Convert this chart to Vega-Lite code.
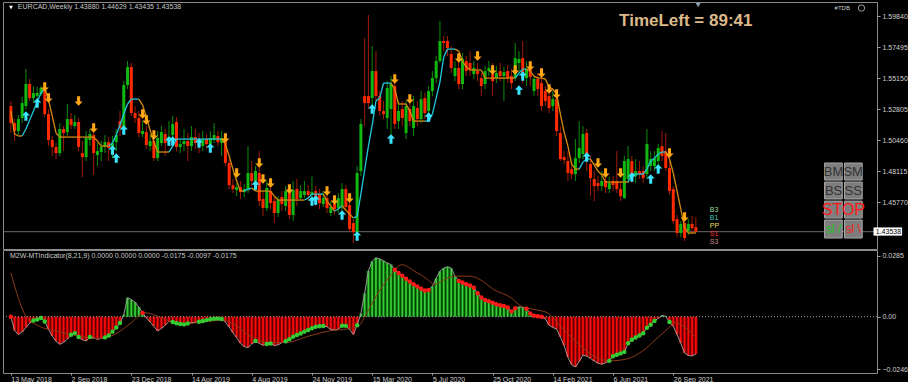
{
"$schema": "https://vega.github.io/schema/vega-lite/v6.json",
"background": "#000000",
"padding": {"left": 2, "top": 1, "right": 0, "bottom": 0},
"spacing": 1,
"bounds": "flush",
"config": {
  "font": "Liberation Sans",
  "view": {"stroke": "#8c8c8c", "strokeWidth": 1},
  "axis": {"labelColor": "#d0d0d0", "labelFontSize": 7, "labelFont": "Liberation Sans", "tickColor": "#a0a0a0", "tickSize": 3, "domain": false, "grid": false}
},
"datasets": {
"bars": [
{"w":0,"o":1.5304,"h":1.5341,"l":1.5100,"c":1.5175,"tl":1.5266,"t":"d","v":0.0000,"d":"r"},
{"w":1,"o":1.5175,"h":1.5205,"l":1.5039,"c":1.5115,"tl":1.5092,"t":"d","v":-0.0065},
{"w":2,"o":1.5115,"h":1.5236,"l":1.5084,"c":1.5205,"tl":1.5077,"t":"d","v":-0.0083},
{"w":3,"o":1.5213,"h":1.5372,"l":1.5175,"c":1.5326,"tl":1.5077,"t":"d","v":-0.0072},
{"w":4,"o":1.5304,"h":1.5583,"l":1.5281,"c":1.5470,"tl":1.5130,"t":"u","v":-0.0051},
{"w":5,"o":1.5470,"h":1.5508,"l":1.5341,"c":1.5364,"tl":1.5198,"t":"u","v":-0.0030},
{"w":6,"o":1.5364,"h":1.5455,"l":1.5326,"c":1.5402,"tl":1.5266,"t":"u","v":-0.0018,"d":"g"},
{"w":7,"o":1.5379,"h":1.5447,"l":1.5356,"c":1.5402,"tl":1.5334,"t":"u","v":-0.0013,"d":"g"},
{"w":8,"o":1.5394,"h":1.5455,"l":1.5379,"c":1.5440,"tl":1.5402,"t":"u","v":-0.0006,"d":"g"},
{"w":9,"o":1.5432,"h":1.5462,"l":1.5220,"c":1.5243,"tl":1.5440,"t":"u","v":-0.0022,"d":"g"},
{"w":10,"o":1.5243,"h":1.5281,"l":1.5001,"c":1.5047,"tl":1.5349,"t":"d","v":-0.0060},
{"w":11,"o":1.5047,"h":1.5077,"l":1.4926,"c":1.4994,"tl":1.5228,"t":"d","v":-0.0090},
{"w":12,"o":1.4994,"h":1.5024,"l":1.4903,"c":1.4948,"tl":1.5100,"t":"d","v":-0.0115},
{"w":13,"o":1.4948,"h":1.5175,"l":1.4926,"c":1.5130,"tl":1.5069,"t":"d","v":-0.0129},
{"w":14,"o":1.5130,"h":1.5152,"l":1.4963,"c":1.5100,"tl":1.5069,"t":"d","v":-0.0120},
{"w":15,"o":1.5107,"h":1.5319,"l":1.5077,"c":1.5205,"tl":1.5069,"t":"d","v":-0.0105},
{"w":16,"o":1.5205,"h":1.5251,"l":1.5130,"c":1.5160,"tl":1.5069,"t":"d","v":-0.0085,"d":"g"},
{"w":17,"o":1.5152,"h":1.5236,"l":1.5130,"c":1.5183,"tl":1.5069,"t":"d","v":-0.0077,"d":"g"},
{"w":18,"o":1.5183,"h":1.5213,"l":1.4963,"c":1.4994,"tl":1.5069,"t":"d","v":-0.0095,"d":"g"},
{"w":19,"o":1.4948,"h":1.5039,"l":1.4767,"c":1.4918,"tl":1.5069,"t":"d","v":-0.0108},
{"w":20,"o":1.4918,"h":1.5115,"l":1.4888,"c":1.5062,"tl":1.5069,"t":"d","v":-0.0114},
{"w":21,"o":1.5047,"h":1.5130,"l":1.5001,"c":1.5092,"tl":1.5069,"t":"d","v":-0.0095,"d":"g"},
{"w":22,"o":1.5084,"h":1.5175,"l":1.4782,"c":1.4948,"tl":1.5069,"t":"d","v":-0.0098},
{"w":23,"o":1.4933,"h":1.5024,"l":1.4850,"c":1.4963,"tl":1.5039,"t":"d","v":-0.0106},
{"w":24,"o":1.4956,"h":1.5039,"l":1.4888,"c":1.4994,"tl":1.5001,"t":"d","v":-0.0102},
{"w":25,"o":1.4994,"h":1.5084,"l":1.4948,"c":1.5031,"tl":1.5001,"t":"d","v":-0.0097,"d":"g"},
{"w":26,"o":1.5031,"h":1.5069,"l":1.4888,"c":1.4986,"tl":1.5001,"t":"d","v":-0.0088,"d":"g"},
{"w":27,"o":1.4986,"h":1.5077,"l":1.4910,"c":1.5024,"tl":1.5024,"t":"u","v":-0.0070,"d":"g"},
{"w":28,"o":1.5031,"h":1.5130,"l":1.4963,"c":1.5084,"tl":1.5084,"t":"u","v":-0.0051,"d":"g"},
{"w":29,"o":1.5190,"h":1.5266,"l":1.5077,"c":1.5137,"tl":1.5160,"t":"u","v":-0.0030,"d":"g"},
{"w":30,"o":1.5137,"h":1.5492,"l":1.5115,"c":1.5462,"tl":1.5243,"t":"u","v":0.0010},
{"w":31,"o":1.5462,"h":1.5644,"l":1.5432,"c":1.5598,"tl":1.5319,"t":"u","v":0.0089},
{"w":32,"o":1.5598,"h":1.5629,"l":1.5228,"c":1.5251,"tl":1.5356,"t":"u","v":0.0080},
{"w":33,"o":1.5251,"h":1.5304,"l":1.5175,"c":1.5213,"tl":1.5356,"t":"u","v":0.0068},
{"w":34,"o":1.5213,"h":1.5266,"l":1.5069,"c":1.5100,"tl":1.5356,"t":"u","v":0.0045},
{"w":35,"o":1.5092,"h":1.5190,"l":1.5069,"c":1.5115,"tl":1.5311,"t":"d","v":0.0018,"d":"r"},
{"w":36,"o":1.5107,"h":1.5152,"l":1.4979,"c":1.5009,"tl":1.5220,"t":"d","v":-0.0005},
{"w":37,"o":1.5001,"h":1.5092,"l":1.4963,"c":1.5039,"tl":1.5122,"t":"d","v":-0.0025},
{"w":38,"o":1.5039,"h":1.5077,"l":1.4888,"c":1.4910,"tl":1.5031,"t":"d","v":-0.0045},
{"w":39,"o":1.4910,"h":1.5115,"l":1.4888,"c":1.5062,"tl":1.4956,"t":"d","v":-0.0067},
{"w":40,"o":1.5024,"h":1.5152,"l":1.5001,"c":1.5107,"tl":1.4956,"t":"d","v":-0.0055},
{"w":41,"o":1.5092,"h":1.5130,"l":1.4926,"c":1.5024,"tl":1.4956,"t":"d","v":-0.0040},
{"w":42,"o":1.5031,"h":1.5190,"l":1.5001,"c":1.5069,"tl":1.4956,"t":"d","v":-0.0022},
{"w":43,"o":1.5084,"h":1.5228,"l":1.5054,"c":1.5168,"tl":1.5001,"t":"u","v":-0.0025,"d":"g"},
{"w":44,"o":1.5183,"h":1.5220,"l":1.4963,"c":1.4994,"tl":1.5054,"t":"u","v":-0.0031,"d":"g"},
{"w":45,"o":1.4994,"h":1.5054,"l":1.4948,"c":1.5016,"tl":1.5054,"t":"u","v":-0.0034,"d":"g"},
{"w":46,"o":1.5016,"h":1.5130,"l":1.4963,"c":1.5039,"tl":1.5054,"t":"u","v":-0.0036,"d":"g"},
{"w":47,"o":1.5039,"h":1.5100,"l":1.4888,"c":1.5001,"tl":1.5054,"t":"u","v":-0.0032,"d":"g"},
{"w":48,"o":1.5001,"h":1.5152,"l":1.4963,"c":1.5069,"tl":1.5054,"t":"u","v":-0.0028},
{"w":49,"o":1.5069,"h":1.5130,"l":1.4979,"c":1.5024,"tl":1.5054,"t":"u","v":-0.0026},
{"w":50,"o":1.5039,"h":1.5100,"l":1.4948,"c":1.5001,"tl":1.5054,"t":"u","v":-0.0024,"d":"g"},
{"w":51,"o":1.5001,"h":1.5115,"l":1.4963,"c":1.5054,"tl":1.5054,"t":"u","v":-0.0020,"d":"g"},
{"w":52,"o":1.5054,"h":1.5092,"l":1.4979,"c":1.5016,"tl":1.5054,"t":"u","v":-0.0016,"d":"g"},
{"w":53,"o":1.5016,"h":1.5115,"l":1.4963,"c":1.5062,"tl":1.5054,"t":"u","v":-0.0012,"d":"g"},
{"w":54,"o":1.5047,"h":1.5175,"l":1.5024,"c":1.5084,"tl":1.5054,"t":"u","v":-0.0010,"d":"g"},
{"w":55,"o":1.5077,"h":1.5115,"l":1.5001,"c":1.5031,"tl":1.5054,"t":"u","v":-0.0009,"d":"g"},
{"w":56,"o":1.5024,"h":1.5115,"l":1.4926,"c":1.5062,"tl":1.5054,"t":"u","v":-0.0011,"d":"g"},
{"w":57,"o":1.5047,"h":1.5077,"l":1.4850,"c":1.4873,"tl":1.5016,"t":"d","v":-0.0025},
{"w":58,"o":1.4873,"h":1.4903,"l":1.4676,"c":1.4706,"tl":1.4926,"t":"d","v":-0.0048},
{"w":59,"o":1.4706,"h":1.4752,"l":1.4646,"c":1.4676,"tl":1.4827,"t":"d","v":-0.0075},
{"w":60,"o":1.4668,"h":1.4721,"l":1.4623,"c":1.4691,"tl":1.4737,"t":"d","v":-0.0098},
{"w":61,"o":1.4691,"h":1.4737,"l":1.4601,"c":1.4653,"tl":1.4661,"t":"d","v":-0.0125},
{"w":62,"o":1.4653,"h":1.4714,"l":1.4616,"c":1.4676,"tl":1.4661,"t":"d","v":-0.0140},
{"w":63,"o":1.4668,"h":1.5001,"l":1.4646,"c":1.4797,"tl":1.4676,"t":"u","v":-0.0145},
{"w":64,"o":1.4797,"h":1.4888,"l":1.4699,"c":1.4737,"tl":1.4684,"t":"u","v":-0.0128},
{"w":65,"o":1.4737,"h":1.4850,"l":1.4661,"c":1.4812,"tl":1.4661,"t":"d","v":-0.0114,"d":"g"},
{"w":66,"o":1.4797,"h":1.4963,"l":1.4548,"c":1.4585,"tl":1.4661,"t":"d","v":-0.0125},
{"w":67,"o":1.4601,"h":1.4661,"l":1.4472,"c":1.4532,"tl":1.4661,"t":"d","v":-0.0134},
{"w":68,"o":1.4532,"h":1.4737,"l":1.4510,"c":1.4684,"tl":1.4661,"t":"d","v":-0.0128,"d":"g"},
{"w":69,"o":1.4661,"h":1.4721,"l":1.4525,"c":1.4570,"tl":1.4661,"t":"d","v":-0.0126,"d":"g"},
{"w":70,"o":1.4585,"h":1.4623,"l":1.4419,"c":1.4495,"tl":1.4623,"t":"d","v":-0.0135},
{"w":71,"o":1.4495,"h":1.4623,"l":1.4464,"c":1.4593,"tl":1.4593,"t":"d","v":-0.0132},
{"w":72,"o":1.4616,"h":1.4661,"l":1.4510,"c":1.4563,"tl":1.4593,"t":"d","v":-0.0122},
{"w":73,"o":1.4548,"h":1.4699,"l":1.4510,"c":1.4661,"tl":1.4593,"t":"d","v":-0.0115,"d":"g"},
{"w":74,"o":1.4661,"h":1.4699,"l":1.4449,"c":1.4480,"tl":1.4593,"t":"d","v":-0.0106,"d":"g"},
{"w":75,"o":1.4480,"h":1.4737,"l":1.4434,"c":1.4668,"tl":1.4593,"t":"d","v":-0.0094,"d":"g"},
{"w":76,"o":1.4676,"h":1.4752,"l":1.4548,"c":1.4601,"tl":1.4593,"t":"d","v":-0.0086,"d":"g"},
{"w":77,"o":1.4608,"h":1.4706,"l":1.4585,"c":1.4661,"tl":1.4593,"t":"d","v":-0.0079,"d":"g"},
{"w":78,"o":1.4631,"h":1.4737,"l":1.4608,"c":1.4661,"tl":1.4593,"t":"d","v":-0.0070,"d":"g"},
{"w":79,"o":1.4661,"h":1.4706,"l":1.4593,"c":1.4631,"tl":1.4608,"t":"u","v":-0.0062,"d":"g"},
{"w":80,"o":1.4631,"h":1.4774,"l":1.4608,"c":1.4653,"tl":1.4638,"t":"u","v":-0.0054,"d":"g"},
{"w":81,"o":1.4661,"h":1.4699,"l":1.4548,"c":1.4585,"tl":1.4638,"t":"u","v":-0.0047,"d":"g"},
{"w":82,"o":1.4638,"h":1.4676,"l":1.4525,"c":1.4570,"tl":1.4638,"t":"u","v":-0.0045,"d":"g"},
{"w":83,"o":1.4563,"h":1.4661,"l":1.4540,"c":1.4608,"tl":1.4638,"t":"u","v":-0.0044,"d":"g"},
{"w":84,"o":1.4608,"h":1.4638,"l":1.4495,"c":1.4532,"tl":1.4585,"t":"d","v":-0.0047},
{"w":85,"o":1.4495,"h":1.4585,"l":1.4472,"c":1.4540,"tl":1.4548,"t":"d","v":-0.0060},
{"w":86,"o":1.4563,"h":1.4601,"l":1.4480,"c":1.4525,"tl":1.4510,"t":"d","v":-0.0062},
{"w":87,"o":1.4532,"h":1.4646,"l":1.4495,"c":1.4608,"tl":1.4525,"t":"u","v":-0.0058},
{"w":88,"o":1.4540,"h":1.4721,"l":1.4510,"c":1.4676,"tl":1.4548,"t":"u","v":-0.0042,"d":"g"},
{"w":89,"o":1.4676,"h":1.4706,"l":1.4510,"c":1.4540,"tl":1.4517,"t":"d","v":-0.0043,"d":"g"},
{"w":90,"o":1.4555,"h":1.4585,"l":1.4351,"c":1.4374,"tl":1.4487,"t":"d","v":-0.0060},
{"w":91,"o":1.4419,"h":1.4449,"l":1.4268,"c":1.4351,"tl":1.4457,"t":"d","v":-0.0083},
{"w":92,"o":1.4351,"h":1.4850,"l":1.4328,"c":1.4797,"tl":1.4472,"t":"u","v":-0.0040,"d":"g"},
{"w":93,"o":1.4812,"h":1.5205,"l":1.4774,"c":1.5168,"tl":1.4638,"t":"u","v":0.0015},
{"w":94,"o":1.5379,"h":1.5818,"l":1.5152,"c":1.5326,"tl":1.4820,"t":"u","v":0.0110},
{"w":95,"o":1.5379,"h":1.5991,"l":1.5281,"c":1.5326,"tl":1.5001,"t":"u","v":0.0215},
{"w":96,"o":1.5364,"h":1.5757,"l":1.5304,"c":1.5568,"tl":1.5160,"t":"u","v":0.0260},
{"w":97,"o":1.5568,"h":1.5719,"l":1.5341,"c":1.5379,"tl":1.5341,"t":"u","v":0.0276},
{"w":98,"o":1.5379,"h":1.5417,"l":1.5228,"c":1.5266,"tl":1.5364,"t":"u","v":0.0271},
{"w":99,"o":1.5266,"h":1.5341,"l":1.5205,"c":1.5243,"tl":1.5477,"t":"u","v":0.0262},
{"w":100,"o":1.5213,"h":1.5492,"l":1.5130,"c":1.5440,"tl":1.5477,"t":"u","v":0.0252},
{"w":101,"o":1.5281,"h":1.5530,"l":1.5039,"c":1.5470,"tl":1.5477,"t":"u","v":0.0244},
{"w":102,"o":1.5455,"h":1.5492,"l":1.5130,"c":1.5168,"tl":1.5432,"t":"d","v":0.0220,"d":"r"},
{"w":103,"o":1.5190,"h":1.5341,"l":1.5130,"c":1.5266,"tl":1.5319,"t":"d","v":0.0205,"d":"r"},
{"w":104,"o":1.5281,"h":1.5341,"l":1.5152,"c":1.5213,"tl":1.5319,"t":"d","v":0.0192,"d":"r"},
{"w":105,"o":1.5100,"h":1.5341,"l":1.5054,"c":1.5304,"tl":1.5319,"t":"d","v":0.0178,"d":"r"},
{"w":106,"o":1.5281,"h":1.5326,"l":1.5152,"c":1.5190,"tl":1.5266,"t":"d","v":0.0165,"d":"r"},
{"w":107,"o":1.5137,"h":1.5379,"l":1.5077,"c":1.5304,"tl":1.5190,"t":"d","v":0.0152,"d":"r"},
{"w":108,"o":1.5288,"h":1.5341,"l":1.5152,"c":1.5205,"tl":1.5190,"t":"d","v":0.0142,"d":"r"},
{"w":109,"o":1.5205,"h":1.5417,"l":1.5175,"c":1.5356,"tl":1.5190,"t":"d","v":0.0131,"d":"r"},
{"w":110,"o":1.5364,"h":1.5402,"l":1.5205,"c":1.5251,"tl":1.5190,"t":"d","v":0.0123,"d":"r"},
{"w":111,"o":1.5266,"h":1.5455,"l":1.5228,"c":1.5417,"tl":1.5190,"t":"u","v":0.0125,"d":"r"},
{"w":112,"o":1.5417,"h":1.5568,"l":1.5379,"c":1.5515,"tl":1.5243,"t":"u","v":0.0143},
{"w":113,"o":1.5515,"h":1.5681,"l":1.5477,"c":1.5644,"tl":1.5364,"t":"u","v":0.0180},
{"w":114,"o":1.5644,"h":1.5946,"l":1.5629,"c":1.5795,"tl":1.5485,"t":"u","v":0.0213},
{"w":115,"o":1.5795,"h":1.5833,"l":1.5719,"c":1.5780,"tl":1.5674,"t":"u","v":0.0228},
{"w":116,"o":1.5795,"h":1.5833,"l":1.5681,"c":1.5742,"tl":1.5734,"t":"u","v":0.0234},
{"w":117,"o":1.5697,"h":1.5757,"l":1.5553,"c":1.5591,"tl":1.5734,"t":"u","v":0.0228},
{"w":118,"o":1.5530,"h":1.5644,"l":1.5492,"c":1.5591,"tl":1.5734,"t":"u","v":0.0190},
{"w":119,"o":1.5591,"h":1.5644,"l":1.5432,"c":1.5470,"tl":1.5719,"t":"d","v":0.0168,"d":"r"},
{"w":120,"o":1.5470,"h":1.5704,"l":1.5432,"c":1.5659,"tl":1.5644,"t":"d","v":0.0160,"d":"r"},
{"w":121,"o":1.5644,"h":1.5681,"l":1.5530,"c":1.5568,"tl":1.5598,"t":"d","v":0.0152,"d":"r"},
{"w":122,"o":1.5629,"h":1.5719,"l":1.5530,"c":1.5583,"tl":1.5576,"t":"d","v":0.0146,"d":"r"},
{"w":123,"o":1.5545,"h":1.5644,"l":1.5508,"c":1.5591,"tl":1.5576,"t":"d","v":0.0136,"d":"r"},
{"w":124,"o":1.5568,"h":1.5629,"l":1.5492,"c":1.5545,"tl":1.5576,"t":"d","v":0.0110,"d":"r"},
{"w":125,"o":1.5515,"h":1.5553,"l":1.5379,"c":1.5455,"tl":1.5576,"t":"d","v":0.0090,"d":"r"},
{"w":126,"o":1.5470,"h":1.5606,"l":1.5432,"c":1.5568,"tl":1.5515,"t":"d","v":0.0078,"d":"r"},
{"w":127,"o":1.5568,"h":1.5644,"l":1.5530,"c":1.5591,"tl":1.5515,"t":"d","v":0.0073,"d":"r"},
{"w":128,"o":1.5545,"h":1.5629,"l":1.5379,"c":1.5492,"tl":1.5515,"t":"d","v":0.0066,"d":"r"},
{"w":129,"o":1.5515,"h":1.5606,"l":1.5477,"c":1.5553,"tl":1.5515,"t":"d","v":0.0058,"d":"r"},
{"w":130,"o":1.5568,"h":1.5629,"l":1.5492,"c":1.5530,"tl":1.5515,"t":"d","v":0.0054,"d":"r"},
{"w":131,"o":1.5530,"h":1.5598,"l":1.5341,"c":1.5560,"tl":1.5515,"t":"d","v":0.0050,"d":"r"},
{"w":132,"o":1.5568,"h":1.5613,"l":1.5477,"c":1.5515,"tl":1.5515,"t":"d","v":0.0043,"d":"r"},
{"w":133,"o":1.5530,"h":1.5583,"l":1.5432,"c":1.5477,"tl":1.5515,"t":"d","v":0.0025,"d":"r"},
{"w":134,"o":1.5515,"h":1.5780,"l":1.5492,"c":1.5666,"tl":1.5515,"t":"d","v":0.0040,"d":"r"},
{"w":135,"o":1.5629,"h":1.5719,"l":1.5568,"c":1.5659,"tl":1.5553,"t":"u","v":0.0046},
{"w":136,"o":1.5666,"h":1.5795,"l":1.5477,"c":1.5515,"tl":1.5583,"t":"u","v":0.0044},
{"w":137,"o":1.5515,"h":1.5644,"l":1.5455,"c":1.5583,"tl":1.5583,"t":"u","v":0.0037,"d":"r"},
{"w":138,"o":1.5583,"h":1.5629,"l":1.5455,"c":1.5523,"tl":1.5568,"t":"d","v":0.0015,"d":"r"},
{"w":139,"o":1.5417,"h":1.5530,"l":1.5379,"c":1.5508,"tl":1.5530,"t":"d","v":0.0005,"d":"r"},
{"w":140,"o":1.5508,"h":1.5553,"l":1.5379,"c":1.5432,"tl":1.5515,"t":"d","v":0.0002,"d":"r"},
{"w":141,"o":1.5477,"h":1.5530,"l":1.5266,"c":1.5304,"tl":1.5515,"t":"d","v":0.0000,"d":"r"},
{"w":142,"o":1.5417,"h":1.5455,"l":1.5304,"c":1.5341,"tl":1.5508,"t":"d","v":-0.0010},
{"w":143,"o":1.5379,"h":1.5417,"l":1.5251,"c":1.5288,"tl":1.5447,"t":"d","v":-0.0040},
{"w":144,"o":1.5304,"h":1.5417,"l":1.5266,"c":1.5356,"tl":1.5432,"t":"d","v":-0.0050},
{"w":145,"o":1.5356,"h":1.5402,"l":1.5077,"c":1.5115,"tl":1.5394,"t":"d","v":-0.0058},
{"w":146,"o":1.5100,"h":1.5152,"l":1.4888,"c":1.4903,"tl":1.5243,"t":"d","v":-0.0095},
{"w":147,"o":1.4918,"h":1.4963,"l":1.4865,"c":1.4895,"tl":1.5107,"t":"d","v":-0.0135},
{"w":148,"o":1.4888,"h":1.4963,"l":1.4737,"c":1.4797,"tl":1.5001,"t":"d","v":-0.0190},
{"w":149,"o":1.4827,"h":1.4888,"l":1.4752,"c":1.4789,"tl":1.4865,"t":"d","v":-0.0225},
{"w":150,"o":1.4789,"h":1.5054,"l":1.4737,"c":1.4910,"tl":1.4827,"t":"d","v":-0.0236},
{"w":151,"o":1.4910,"h":1.5190,"l":1.4873,"c":1.4986,"tl":1.4827,"t":"d","v":-0.0210},
{"w":152,"o":1.4941,"h":1.5152,"l":1.4903,"c":1.5092,"tl":1.4880,"t":"u","v":-0.0180},
{"w":153,"o":1.5100,"h":1.5130,"l":1.4812,"c":1.4903,"tl":1.4903,"t":"u","v":-0.0185},
{"w":154,"o":1.4865,"h":1.4926,"l":1.4623,"c":1.4759,"tl":1.4903,"t":"u","v":-0.0195},
{"w":155,"o":1.4752,"h":1.4812,"l":1.4585,"c":1.4699,"tl":1.4857,"t":"d","v":-0.0208},
{"w":156,"o":1.4721,"h":1.4774,"l":1.4661,"c":1.4699,"tl":1.4812,"t":"d","v":-0.0218},
{"w":157,"o":1.4699,"h":1.4812,"l":1.4661,"c":1.4737,"tl":1.4782,"t":"d","v":-0.0223},
{"w":158,"o":1.4737,"h":1.4774,"l":1.4646,"c":1.4691,"tl":1.4729,"t":"d","v":-0.0216},
{"w":159,"o":1.4676,"h":1.4767,"l":1.4646,"c":1.4721,"tl":1.4729,"t":"d","v":-0.0207,"d":"g"},
{"w":160,"o":1.4737,"h":1.4774,"l":1.4661,"c":1.4706,"tl":1.4729,"t":"d","v":-0.0185,"d":"g"},
{"w":161,"o":1.4737,"h":1.4963,"l":1.4646,"c":1.4676,"tl":1.4729,"t":"d","v":-0.0178,"d":"g"},
{"w":162,"o":1.4676,"h":1.4737,"l":1.4585,"c":1.4623,"tl":1.4729,"t":"d","v":-0.0172,"d":"g"},
{"w":163,"o":1.4608,"h":1.4926,"l":1.4601,"c":1.4888,"tl":1.4729,"t":"d","v":-0.0165,"d":"g"},
{"w":164,"o":1.4752,"h":1.5001,"l":1.4721,"c":1.4903,"tl":1.4729,"t":"d","v":-0.0125,"d":"g"},
{"w":165,"o":1.4888,"h":1.4926,"l":1.4721,"c":1.4759,"tl":1.4789,"t":"u","v":-0.0108,"d":"g"},
{"w":166,"o":1.4774,"h":1.4903,"l":1.4721,"c":1.4812,"tl":1.4789,"t":"u","v":-0.0098,"d":"g"},
{"w":167,"o":1.4812,"h":1.4888,"l":1.4752,"c":1.4789,"tl":1.4789,"t":"u","v":-0.0088,"d":"g"},
{"w":168,"o":1.4812,"h":1.4850,"l":1.4721,"c":1.4759,"tl":1.4789,"t":"u","v":-0.0078,"d":"g"},
{"w":169,"o":1.4789,"h":1.5130,"l":1.4752,"c":1.5016,"tl":1.4827,"t":"u","v":-0.0052,"d":"g"},
{"w":170,"o":1.4850,"h":1.4963,"l":1.4812,"c":1.4903,"tl":1.4888,"t":"u","v":-0.0038,"d":"g"},
{"w":171,"o":1.4850,"h":1.4963,"l":1.4812,"c":1.4910,"tl":1.4910,"t":"u","v":-0.0020,"d":"g"},
{"w":172,"o":1.4888,"h":1.5016,"l":1.4850,"c":1.4986,"tl":1.4941,"t":"u","v":-0.0008},
{"w":173,"o":1.5001,"h":1.5115,"l":1.4888,"c":1.4926,"tl":1.4956,"t":"u","v":0.0006},
{"w":174,"o":1.4963,"h":1.5100,"l":1.4812,"c":1.4835,"tl":1.4956,"t":"u","v":0.0002},
{"w":175,"o":1.4835,"h":1.4888,"l":1.4638,"c":1.4661,"tl":1.4903,"t":"d","v":-0.0025,"d":"g"},
{"w":176,"o":1.4676,"h":1.4699,"l":1.4412,"c":1.4434,"tl":1.4797,"t":"d","v":-0.0045},
{"w":177,"o":1.4449,"h":1.4480,"l":1.4313,"c":1.4344,"tl":1.4661,"t":"d","v":-0.0083},
{"w":178,"o":1.4344,"h":1.4434,"l":1.4313,"c":1.4412,"tl":1.4525,"t":"d","v":-0.0125},
{"w":179,"o":1.4419,"h":1.4449,"l":1.4283,"c":1.4306,"tl":1.4389,"t":"d","v":-0.0170},
{"w":180,"o":1.4359,"h":1.4449,"l":1.4328,"c":1.4412,"tl":1.4344,"t":"d","v":-0.0182},
{"w":181,"o":1.4412,"h":1.4472,"l":1.4344,"c":1.4381,"tl":1.4344,"t":"d","v":-0.0184},
{"w":182,"o":1.4388,"h":1.4463,"l":1.4344,"c":1.4354,"tl":1.4344,"t":"d","v":-0.0175}
],
"arr": [
{"w":4,"dir":"u","p":1.5228},{"w":7,"dir":"u","p":1.5326},{"w":27,"dir":"u","p":1.4971},{"w":28,"dir":"u","p":1.4910},
{"w":30,"dir":"u","p":1.5122},{"w":42,"dir":"u","p":1.5039},{"w":43,"dir":"u","p":1.5039},{"w":50,"dir":"u","p":1.5024},
{"w":53,"dir":"u","p":1.4986},{"w":65,"dir":"u","p":1.4706},{"w":80,"dir":"u","p":1.4585},{"w":81,"dir":"u","p":1.4593},
{"w":88,"dir":"u","p":1.4480},{"w":92,"dir":"u","p":1.4321},{"w":96,"dir":"u","p":1.5281},{"w":101,"dir":"u","p":1.5054},
{"w":111,"dir":"u","p":1.5220},{"w":135,"dir":"u","p":1.5424},{"w":136,"dir":"u","p":1.5530},{"w":153,"dir":"u","p":1.4918},
{"w":165,"dir":"u","p":1.4767},{"w":170,"dir":"u","p":1.4752},{"w":172,"dir":"u","p":1.4827},
{"w":9,"dir":"d","p":1.5447},{"w":10,"dir":"d","p":1.5364},{"w":18,"dir":"d","p":1.5341},{"w":22,"dir":"d","p":1.5137},
{"w":35,"dir":"d","p":1.5243},{"w":36,"dir":"d","p":1.5198},{"w":38,"dir":"d","p":1.5084},{"w":57,"dir":"d","p":1.5062},
{"w":60,"dir":"d","p":1.4797},{"w":66,"dir":"d","p":1.4873},{"w":67,"dir":"d","p":1.4752},{"w":69,"dir":"d","p":1.4721},
{"w":74,"dir":"d","p":1.4676},{"w":84,"dir":"d","p":1.4661},{"w":86,"dir":"d","p":1.4593},{"w":90,"dir":"d","p":1.4608},
{"w":102,"dir":"d","p":1.5508},{"w":106,"dir":"d","p":1.5356},{"w":119,"dir":"d","p":1.5666},{"w":124,"dir":"d","p":1.5681},
{"w":128,"dir":"d","p":1.5576},{"w":134,"dir":"d","p":1.5576},{"w":138,"dir":"d","p":1.5606},{"w":141,"dir":"d","p":1.5553},
{"w":143,"dir":"d","p":1.5432},{"w":145,"dir":"d","p":1.5394},{"w":156,"dir":"d","p":1.4873},{"w":158,"dir":"d","p":1.4797},
{"w":162,"dir":"d","p":1.4797},{"w":175,"dir":"d","p":1.4948},{"w":179,"dir":"d","p":1.4464}
],
"sg": [
{"w":0,"s":0.0206},{"w":4,"s":0.0003},{"w":7.5,"s":-0.0044},{"w":11.8,"s":-0.0067},{"w":18,"s":-0.0090},
{"w":23.2,"s":-0.0103},{"w":27.6,"s":-0.0083},{"w":32,"s":-0.0028},{"w":35.5,"s":0.0019},{"w":40,"s":-0.0005},
{"w":45,"s":-0.0036},{"w":51,"s":-0.0025},{"w":56.5,"s":-0.0016},{"w":60,"s":-0.0044},{"w":63.5,"s":-0.0090},
{"w":68,"s":-0.0121},{"w":73,"s":-0.0121},{"w":79.3,"s":-0.0090},{"w":84.5,"s":-0.0067},{"w":89.8,"s":-0.0056},
{"w":92.4,"s":-0.0044},{"w":94.1,"s":0.0003},{"w":97.6,"s":0.0112},{"w":101.1,"s":0.0198},{"w":103.8,"s":0.0244},
{"w":107.3,"s":0.0213},{"w":110.8,"s":0.0174},{"w":112.5,"s":0.0151},{"w":115.2,"s":0.0174},{"w":117.8,"s":0.0190},
{"w":122,"s":0.0190},{"w":124.7,"s":0.0174},{"w":128.2,"s":0.0128},{"w":132.9,"s":0.0089},{"w":135.5,"s":0.0050},
{"w":139,"s":0.0034},{"w":142.5,"s":0.0019},{"w":146,"s":-0.0044},{"w":150.4,"s":-0.0121},{"w":154.8,"s":-0.0184},
{"w":159.1,"s":-0.0207},{"w":163.5,"s":-0.0199},{"w":167.9,"s":-0.0160},{"w":171.4,"s":-0.0106},{"w":174.9,"s":-0.0051},
{"w":176.6,"s":-0.0028},{"w":179.2,"s":-0.0051},{"w":182,"s":-0.0097}
]
},
"vconcat": [
{
  "width": 874, "height": 247,
  "layer": [
    {"data": {"values": [{}]}, "mark": {"type": "rule", "color": "#6c6c6c", "strokeWidth": 1},
     "encoding": {"y": {"datum": 1.43538, "type": "quantitative", "scale": {"domain": [1.4223, 1.6090], "zero": false, "nice": false},
       "axis": {"orient": "right", "title": null, "values": [1.5984, 1.57495, 1.5515, 1.52805, 1.5046, 1.48115, 1.4577], "format": ".5f", "labelPadding": 2}}}},
    {"data": {"name": "bars"}, "mark": {"type": "rule", "strokeWidth": 1},
     "encoding": {"x": {"field": "w", "type": "quantitative", "scale": {"domain": [-0.76, 228.8], "zero": false, "nice": false}, "axis": null},
       "y": {"field": "l", "type": "quantitative", "title": null}, "y2": {"field": "h"},
       "color": {"condition": {"test": "datum.c >= datum.o", "value": "#0b8a0b"}, "value": "#a01c08"}}},
    {"data": {"name": "bars"}, "mark": {"type": "bar", "size": 3},
     "encoding": {"x": {"field": "w", "type": "quantitative", "axis": null},
       "y": {"field": "o", "type": "quantitative", "title": null}, "y2": {"field": "c"},
       "color": {"condition": {"test": "datum.c >= datum.o", "value": "#10b810"}, "value": "#ff2a00"}}},
    {"data": {"name": "bars"},
     "transform": [{"window": [{"op": "lead", "field": "w", "as": "nw"}, {"op": "lead", "field": "tl", "as": "ntl"}, {"op": "lead", "field": "t", "as": "nt"}], "sort": [{"field": "w"}]}, {"filter": "datum.nw != null"}],
     "mark": {"type": "rule", "strokeWidth": 1.3},
     "encoding": {"x": {"field": "w", "type": "quantitative", "axis": null}, "x2": {"field": "nw"},
       "y": {"field": "tl", "type": "quantitative", "title": null}, "y2": {"field": "ntl"},
       "color": {"condition": {"test": "datum.nt == 'u'", "value": "#22c8dc"}, "value": "#d98c10"}}},
    {"data": {"name": "arr"}, "transform": [{"filter": "datum.dir == 'u'"}],
     "mark": {"type": "point", "filled": true, "opacity": 1, "size": 90, "color": "#3ae6ff", "shape": "M0,-1L0.85,-0.1L0.32,-0.1L0.32,1L-0.32,1L-0.32,-0.1L-0.85,-0.1Z"},
     "encoding": {"x": {"field": "w", "type": "quantitative", "axis": null}, "y": {"field": "p", "type": "quantitative", "title": null}}},
    {"data": {"name": "arr"}, "transform": [{"filter": "datum.dir == 'd'"}],
     "mark": {"type": "point", "filled": true, "opacity": 1, "size": 90, "color": "#ffa614", "shape": "M0,1L0.85,0.1L0.32,0.1L0.32,-1L-0.32,-1L-0.32,0.1L-0.85,0.1Z"},
     "encoding": {"x": {"field": "w", "type": "quantitative", "axis": null}, "y": {"field": "p", "type": "quantitative", "title": null}}},
    {"data": {"values": [{}]}, "mark": {"type": "point", "shape": "triangle-down", "filled": true, "size": 16, "color": "#ffffff", "opacity": 1},
     "encoding": {"x": {"datum": 0.03, "axis": null}, "y": {"datum": 1.6049, "title": null}}},
    {"data": {"values": [{}]}, "mark": {"type": "point", "shape": "triangle-down", "filled": true, "size": 24, "color": "#8aa0b8", "opacity": 1},
     "encoding": {"x": {"datum": 182.6, "axis": null}, "y": {"datum": 1.6066, "title": null}}},
    {"data": {"values": [{}]}, "mark": {"type": "text", "text": "EURCAD,Weekly  1.43880 1.44629 1.43435 1.43538", "fontSize": 7, "color": "#c8c8c8", "align": "left", "baseline": "middle"},
     "encoding": {"x": {"datum": 1.86, "axis": null}, "y": {"datum": 1.6049, "title": null}}},
    {"data": {"values": [{}]}, "mark": {"type": "text", "text": "TimeLeft = 89:41", "fontSize": 17, "fontWeight": "bold", "color": "#dcb98a", "align": "left", "baseline": "middle"},
     "encoding": {"x": {"datum": 161.6, "axis": null}, "y": {"datum": 1.5946, "title": null}}},
    {"data": {"values": [{}]}, "mark": {"type": "text", "text": "#TDB", "fontSize": 6, "color": "#c8c8c8", "align": "center", "baseline": "middle"},
     "encoding": {"x": {"datum": 220.9, "axis": null}, "y": {"datum": 1.6044, "title": null}}},
    {"data": {"values": [{}]}, "mark": {"type": "point", "shape": "circle", "size": 40, "color": "#a0a0a0", "strokeWidth": 1, "opacity": 1},
     "encoding": {"x": {"datum": 226.0, "axis": null}, "y": {"datum": 1.6044, "title": null}}},
    {"data": {"values": [{}]}, "mark": {"type": "rect", "fill": "#7d7d7d", "stroke": "#a8a8a8"}, "encoding": {"x": {"datum": 216.2, "axis": null}, "x2": {"datum": 220.9}, "y": {"datum": 1.4873, "title": null}, "y2": {"datum": 1.4744}}},
    {"data": {"values": [{}]}, "mark": {"type": "rect", "fill": "#7d7d7d", "stroke": "#a8a8a8"}, "encoding": {"x": {"datum": 221.5, "axis": null}, "x2": {"datum": 226.2}, "y": {"datum": 1.4873, "title": null}, "y2": {"datum": 1.4744}}},
    {"data": {"values": [{}]}, "mark": {"type": "rect", "fill": "#7d7d7d", "stroke": "#a8a8a8"}, "encoding": {"x": {"datum": 216.2, "axis": null}, "x2": {"datum": 220.9}, "y": {"datum": 1.4729, "title": null}, "y2": {"datum": 1.4601}}},
    {"data": {"values": [{}]}, "mark": {"type": "rect", "fill": "#7d7d7d", "stroke": "#a8a8a8"}, "encoding": {"x": {"datum": 221.5, "axis": null}, "x2": {"datum": 226.2}, "y": {"datum": 1.4729, "title": null}, "y2": {"datum": 1.4601}}},
    {"data": {"values": [{}]}, "mark": {"type": "rect", "fill": "#7d7d7d", "stroke": "#a8a8a8"}, "encoding": {"x": {"datum": 216.2, "axis": null}, "x2": {"datum": 220.9}, "y": {"datum": 1.4585, "title": null}, "y2": {"datum": 1.4457}}},
    {"data": {"values": [{}]}, "mark": {"type": "rect", "fill": "#7d7d7d", "stroke": "#a8a8a8"}, "encoding": {"x": {"datum": 221.5, "axis": null}, "x2": {"datum": 226.2}, "y": {"datum": 1.4585, "title": null}, "y2": {"datum": 1.4457}}},
    {"data": {"values": [{}]}, "mark": {"type": "rect", "fill": "#7d7d7d", "stroke": "#a8a8a8"}, "encoding": {"x": {"datum": 216.2, "axis": null}, "x2": {"datum": 220.9}, "y": {"datum": 1.4442, "title": null}, "y2": {"datum": 1.4306}}},
    {"data": {"values": [{}]}, "mark": {"type": "rect", "fill": "#7d7d7d", "stroke": "#a8a8a8"}, "encoding": {"x": {"datum": 221.5, "axis": null}, "x2": {"datum": 226.2}, "y": {"datum": 1.4442, "title": null}, "y2": {"datum": 1.4306}}},
    {"data": {"values": [{}]}, "mark": {"type": "text", "text": "BM", "fontSize": 13, "color": "#333333", "align": "center", "baseline": "middle"}, "encoding": {"x": {"datum": 218.6, "axis": null}, "y": {"datum": 1.4808, "title": null}}},
    {"data": {"values": [{}]}, "mark": {"type": "text", "text": "SM", "fontSize": 13, "color": "#333333", "align": "center", "baseline": "middle"}, "encoding": {"x": {"datum": 223.8, "axis": null}, "y": {"datum": 1.4808, "title": null}}},
    {"data": {"values": [{}]}, "mark": {"type": "text", "text": "BS", "fontSize": 13, "color": "#333333", "align": "center", "baseline": "middle"}, "encoding": {"x": {"datum": 218.6, "axis": null}, "y": {"datum": 1.4665, "title": null}}},
    {"data": {"values": [{}]}, "mark": {"type": "text", "text": "SS", "fontSize": 13, "color": "#333333", "align": "center", "baseline": "middle"}, "encoding": {"x": {"datum": 223.8, "axis": null}, "y": {"datum": 1.4665, "title": null}}},
    {"data": {"values": [{}]}, "mark": {"type": "text", "text": "STOP", "fontSize": 16, "color": "#ff1a1a", "align": "center", "baseline": "middle"}, "encoding": {"x": {"datum": 221.2, "axis": null}, "y": {"datum": 1.4521, "title": null}}},
    {"data": {"values": [{}]}, "mark": {"type": "text", "text": "sl /", "fontSize": 12, "color": "#19c819", "align": "center", "baseline": "middle"}, "encoding": {"x": {"datum": 218.6, "axis": null}, "y": {"datum": 1.4374, "title": null}}},
    {"data": {"values": [{}]}, "mark": {"type": "text", "text": "sl \\", "fontSize": 12, "color": "#ff1a1a", "align": "center", "baseline": "middle"}, "encoding": {"x": {"datum": 223.8, "axis": null}, "y": {"datum": 1.4374, "title": null}}},
    {"data": {"values": [{}]}, "mark": {"type": "text", "text": "B3", "fontSize": 7, "color": "#9ad29a", "align": "left", "baseline": "middle"}, "encoding": {"x": {"datum": 185.7, "axis": null}, "y": {"datum": 1.4517, "title": null}}},
    {"data": {"values": [{}]}, "mark": {"type": "text", "text": "B1", "fontSize": 7, "color": "#3cc8b4", "align": "left", "baseline": "middle"}, "encoding": {"x": {"datum": 185.7, "axis": null}, "y": {"datum": 1.4457, "title": null}}},
    {"data": {"values": [{}]}, "mark": {"type": "text", "text": "PP", "fontSize": 7, "color": "#e8e050", "align": "left", "baseline": "middle"}, "encoding": {"x": {"datum": 185.7, "axis": null}, "y": {"datum": 1.4396, "title": null}}},
    {"data": {"values": [{}]}, "mark": {"type": "text", "text": "S1", "fontSize": 7, "color": "#ff3030", "align": "left", "baseline": "middle"}, "encoding": {"x": {"datum": 185.7, "axis": null}, "y": {"datum": 1.4336, "title": null}}},
    {"data": {"values": [{}]}, "mark": {"type": "text", "text": "S3", "fontSize": 7, "color": "#d08888", "align": "left", "baseline": "middle"}, "encoding": {"x": {"datum": 185.7, "axis": null}, "y": {"datum": 1.4275, "title": null}}},
    {"data": {"values": [{}]}, "mark": {"type": "rect", "fill": "#ffffff"}, "encoding": {"x": {"datum": 229.2, "axis": null}, "x2": {"datum": 236.8}, "y": {"datum": 1.4386, "title": null}, "y2": {"datum": 1.4324}}},
    {"data": {"values": [{}]}, "mark": {"type": "text", "text": "1.43538", "fontSize": 7, "color": "#000000", "align": "left", "baseline": "middle"}, "encoding": {"x": {"datum": 229.8, "axis": null}, "y": {"datum": 1.4355, "title": null}}}
  ]
},
{
  "width": 874, "height": 123,
  "layer": [
    {"data": {"name": "bars"}, "mark": {"type": "bar", "size": 3.8},
     "encoding": {"x": {"field": "w", "type": "quantitative", "scale": {"domain": [-0.76, 228.8], "zero": false, "nice": false},
        "axis": {"title": null, "values": [0,16,32,48,64,80,96,112,128,144,160,176], "labelAlign": "left", "labelPadding": 0, "tickSize": 2, "labelExpr": "['13 May 2018','2 Sep 2018','23 Dec 2018','14 Apr 2019','4 Aug 2019','24 Nov 2019','15 Mar 2020','5 Jul 2020','25 Oct 2020','14 Feb 2021','6 Jun 2021','26 Sep 2021'][round(datum.value/16)]"}},
       "y": {"field": "v", "type": "quantitative", "scale": {"domain": [-0.0264, 0.03128], "zero": false, "nice": false},
        "axis": {"orient": "right", "title": null, "values": [0.0285, 0, -0.0246], "labelPadding": 2, "labelExpr": "datum.value == 0 ? '0.00' : format(datum.value, '.4f')"}},
       "y2": {"datum": 0},
       "color": {"condition": {"test": "datum.v < 0", "value": "#7a0000"}, "value": "#005a00"}}},
    {"data": {"name": "bars"}, "mark": {"type": "rule", "strokeWidth": 1.7},
     "encoding": {"x": {"field": "w", "type": "quantitative", "title": null}, "y": {"field": "v", "type": "quantitative", "title": null}, "y2": {"datum": 0},
       "color": {"condition": {"test": "datum.v < 0", "value": "#ff0a0a"}, "value": "#3ccc3c"}}},
    {"data": {"values": [{}]}, "mark": {"type": "rule", "color": "#9a9a9a", "strokeDash": [1, 2], "strokeWidth": 1},
     "encoding": {"y": {"datum": 0, "type": "quantitative", "title": null}}},
    {"data": {"name": "bars"}, "mark": {"type": "line", "color": "#9a9a9a", "strokeWidth": 1},
     "encoding": {"x": {"field": "w", "type": "quantitative", "title": null}, "y": {"field": "v", "type": "quantitative", "title": null}}},
    {"data": {"name": "sg"}, "mark": {"type": "line", "color": "#8c3a1a", "strokeWidth": 1, "interpolate": "monotone"},
     "encoding": {"x": {"field": "w", "type": "quantitative", "title": null}, "y": {"field": "s", "type": "quantitative", "title": null}}},
    {"data": {"name": "bars"}, "transform": [{"filter": "datum.d == 'g' || datum.d == 'r'"}],
     "mark": {"type": "point", "filled": true, "opacity": 1, "size": 20},
     "encoding": {"x": {"field": "w", "type": "quantitative", "title": null}, "y": {"field": "v", "type": "quantitative", "title": null},
       "color": {"condition": {"test": "datum.d == 'g'", "value": "#33cc33"}, "value": "#ff1a1a"}}},
    {"data": {"values": [{}]}, "mark": {"type": "text", "text": "M2W-MTIndicator(8,21,9) 0.0000 0.0000 0.0000 -0.0175 -0.0097 -0.0175", "fontSize": 7, "color": "#c8c8c8", "align": "left", "baseline": "middle"},
     "encoding": {"x": {"datum": -0.24, "title": null}, "y": {"datum": 0.0285, "title": null}}}
  ]
}
]
}
